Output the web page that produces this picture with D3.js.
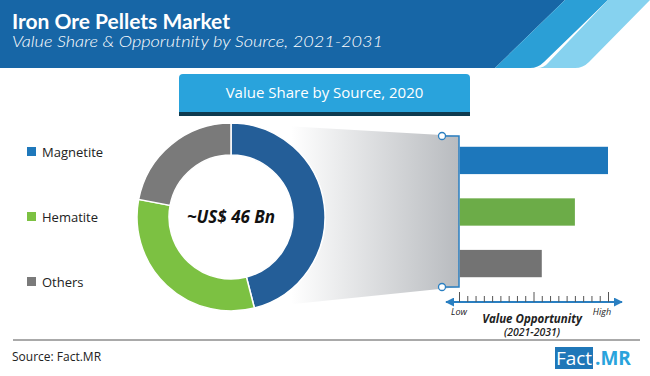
<!DOCTYPE html>
<html>
<head>
<meta charset="utf-8">
<script src="https://cdn.jsdelivr.net/npm/d3@7"></script>
<style>
  body { margin: 0; background: #fff; }
  svg { display: block; }
</style>
</head>
<body>
<div id="chart"></div>
<script>
"use strict"

// data
let sources = ["Magnetite", "Hematite", "Others"];
let shares = [46, 32, 22];             // value share 2020, %
let opportunity = [18, 14, 10];        // relative value opportunity, 0..18 scale
let donutColors = ["#245e98", "#7cc142", "#7a7a7a"];
let barColors = ["#1d77bb", "#6cac48", "#737373"];
let legendColors = ["#1f78bb", "#7cc142", "#7a7a7a"];
let totalLabel = "~US$ 46 Bn";

let width = 650, height = 376;

let svg = d3.select("#chart").append("svg")
    .attr("width", width)
    .attr("height", height);

let defs = svg.append("defs");

// ---------- header ----------
svg.append("path")
    .attr("d", "M0 0 H565 L495 68 H0 Z")
    .style("fill", "#1766a6");
svg.append("path")
    .attr("d", "M565 0 H608 L544 62 Q538 68 530 68 H495 Z")
    .style("fill", "#2b9fd6");
svg.append("path")
    .attr("d", "M608 0 H650 L589 62 Q583 68 575 68 H537 Q544 68 548 63 Z")
    .style("fill", "#86d2ef");

svg.append("text")
    .attr("x", 12)
    .attr("y", 29)
    .attr("textLength", 218)
    .attr("lengthAdjust", "spacingAndGlyphs")
    .style("font-family", "Lato, 'Open Sans', sans-serif")
    .style("font-weight", "bold")
    .style("font-size", "20px")
    .style("fill", "#fff")
    .text("Iron Ore Pellets Market");

svg.append("text")
    .attr("x", 12)
    .attr("y", 47)
    .attr("textLength", 371)
    .attr("lengthAdjust", "spacingAndGlyphs")
    .style("font-family", "Lato, 'Open Sans', sans-serif")
    .style("font-style", "italic")
    .style("font-weight", "300")
    .style("font-size", "16.5px")
    .style("fill", "#fff")
    .text("Value Share & Opporutnity by Source, 2021-2031");

// ---------- section title box ----------
svg.append("rect")
    .attr("x", 179).attr("y", 106)
    .attr("width", 291).attr("height", 10)
    .style("fill", "#0f3b50");
svg.append("path")
    .attr("d", "M179 112 V78 Q179 74 183 74 H466 Q470 74 470 78 V112 Z")
    .style("fill", "#29a3dc");
svg.append("text")
    .attr("x", 324.5)
    .attr("y", 98)
    .style("font-family", "'Open Sans', sans-serif")
    .style("font-size", "15px")
    .style("fill", "#fff")
    .style("text-anchor", "middle")
    .text("Value Share by Source, 2020");

// ---------- scales ----------
let cx = 231, cy = 217, outerR = 94, innerR = 62;

let x = d3.scaleLinear()
    .domain([0, 18])
    .range([459, 608]);

let y = d3.scaleBand()
    .domain(sources)
    .range([121, 303])
    .paddingInner(0.47)
    .paddingOuter(0.5);

let pie = d3.pie().sort(null).value(d => d);
let arcs = pie(shares);
let arc = d3.arc().innerRadius(innerR).outerRadius(outerR);

// ---------- gradient wedge from donut slice to bars ----------
let grad = defs.append("linearGradient")
    .attr("id", "wedgeGrad")
    .attr("gradientUnits", "userSpaceOnUse")
    .attr("x1", cx + 60).attr("y1", 0)
    .attr("x2", x(0)).attr("y2", 0);
grad.append("stop").attr("offset", "0").style("stop-color", "#ffffff");
grad.append("stop").attr("offset", "1").style("stop-color", "#b8bbbf");

let a1 = arcs[0].endAngle;
let wedge = [
    [cx, cy - outerR],
    [x(0), 136],
    [x(0), 287],
    [cx + Math.sin(a1) * outerR, cy - Math.cos(a1) * outerR]
];
svg.append("path")
    .attr("d", "M" + wedge.map(p => p.join(" ")).join(" L") + " Z")
    .style("fill", "url(#wedgeGrad)");

// ---------- donut ----------
let donut = svg.append("g")
    .attr("transform", "translate(" + cx + "," + cy + ")");

donut.selectAll("path")
    .data(arcs)
    .enter().append("path")
    .attr("d", arc)
    .style("fill", (d, i) => donutColors[i])
    .style("stroke", "#fff")
    .style("stroke-width", 1.5);

donut.append("text")
    .attr("y", 6)
    .style("font-family", "'Open Sans', sans-serif")
    .style("font-weight", "bold")
    .style("font-style", "italic")
    .style("font-size", "17px")
    .style("fill", "#111")
    .style("text-anchor", "middle")
    .text(totalLabel);

// ---------- legend ----------
let legendY = [152, 217, 282];
let legend = svg.append("g");
sources.forEach((s, i) => {
    legend.append("rect")
        .attr("x", 27).attr("y", legendY[i] - 5)
        .attr("width", 9).attr("height", 9)
        .style("fill", legendColors[i]);
    legend.append("text")
        .attr("x", 42).attr("y", legendY[i] + 4.5)
        .style("font-family", "'Open Sans', sans-serif")
        .style("font-size", "13px")
        .style("fill", "#222")
        .text(s);
});

// ---------- bracket ----------
svg.append("path")
    .attr("d", "M442 136 H" + x(0) + " V287 H442")
    .style("fill", "none")
    .style("stroke", "#2a7fc1")
    .style("stroke-width", 1.5);
[136, 287].forEach(cyy => {
    svg.append("circle")
        .attr("cx", 442).attr("cy", cyy).attr("r", 3.5)
        .style("fill", "#fff")
        .style("stroke", "#2a7fc1")
        .style("stroke-width", 1.3);
});

// ---------- bars ----------
svg.selectAll(".bar")
    .data(opportunity)
    .enter().append("rect")
    .attr("class", "bar")
    .attr("x", x(0) + 0.75)
    .attr("y", (d, i) => y(sources[i]))
    .attr("width", d => x(d) - x(0) - 0.75)
    .attr("height", y.bandwidth())
    .style("fill", (d, i) => barColors[i]);

// ---------- opportunity axis ----------
let axisY = 302;
defs.append("marker")
    .attr("id", "arrow")
    .attr("viewBox", "0 0 10 10")
    .attr("refX", 9).attr("refY", 5)
    .attr("markerWidth", 5).attr("markerHeight", 5)
    .attr("markerUnits", "strokeWidth")
    .attr("orient", "auto-start-reverse")
    .append("path")
    .attr("d", "M0 0 L10 5 L0 10 Z")
    .style("fill", "#2a7fc1");

svg.append("line")
    .attr("x1", 446).attr("x2", 622)
    .attr("y1", axisY).attr("y2", axisY)
    .style("stroke", "#2a7fc1")
    .style("stroke-width", 1.8)
    .attr("marker-start", "url(#arrow)")
    .attr("marker-end", "url(#arrow)");

let axis = d3.axisTop(x)
    .ticks(18)
    .tickSize(6)
    .tickFormat("");
let axisG = svg.append("g")
    .attr("transform", "translate(0," + axisY + ")")
    .call(axis);
axisG.select(".domain").remove();
axisG.selectAll(".tick line")
    .style("stroke", "#555")
    .attr("y2", d => (d === 0 || d === 9 || d === 18) ? -10 : -6);

svg.append("text")
    .attr("x", x(0)).attr("y", 315)
    .style("font-family", "'Open Sans', sans-serif")
    .style("font-style", "italic")
    .style("font-size", "9px")
    .style("fill", "#222")
    .style("text-anchor", "middle")
    .text("Low");
svg.append("text")
    .attr("x", x(18) - 6).attr("y", 315)
    .style("font-family", "'Open Sans', sans-serif")
    .style("font-style", "italic")
    .style("font-size", "9px")
    .style("fill", "#222")
    .style("text-anchor", "middle")
    .text("High");
svg.append("text")
    .attr("x", 532).attr("y", 323)
    .style("font-family", "'Open Sans', sans-serif")
    .style("font-style", "italic")
    .style("font-weight", "bold")
    .style("font-size", "11.5px")
    .style("fill", "#222")
    .style("text-anchor", "middle")
    .text("Value Opportunity");
svg.append("text")
    .attr("x", 532).attr("y", 336)
    .style("font-family", "'Open Sans', sans-serif")
    .style("font-style", "italic")
    .style("font-weight", "600")
    .style("font-size", "10.5px")
    .style("fill", "#222")
    .style("text-anchor", "middle")
    .text("(2021-2031)");

// ---------- footer ----------
svg.append("line")
    .attr("x1", 13).attr("x2", 640)
    .attr("y1", 340).attr("y2", 340)
    .style("stroke", "#555")
    .style("stroke-width", 1);
svg.append("text")
    .attr("x", 12).attr("y", 361)
    .style("font-family", "'Open Sans', sans-serif")
    .style("font-size", "12px")
    .style("fill", "#222")
    .text("Source: Fact.MR");

svg.append("rect")
    .attr("x", 555).attr("y", 347)
    .attr("width", 38).attr("height", 22)
    .style("fill", "#1f77b8");
svg.append("text")
    .attr("x", 574).attr("y", 365)
    .style("font-family", "'Open Sans', sans-serif")
    .style("font-size", "19px")
    .style("fill", "#fff")
    .style("text-anchor", "middle")
    .text("Fact");
svg.append("text")
    .attr("x", 595).attr("y", 365)
    .style("font-family", "'Open Sans', sans-serif")
    .style("font-weight", "bold")
    .style("font-size", "19px")
    .style("fill", "#29a3dc")
    .text(".MR");
</script>
</body>
</html>
